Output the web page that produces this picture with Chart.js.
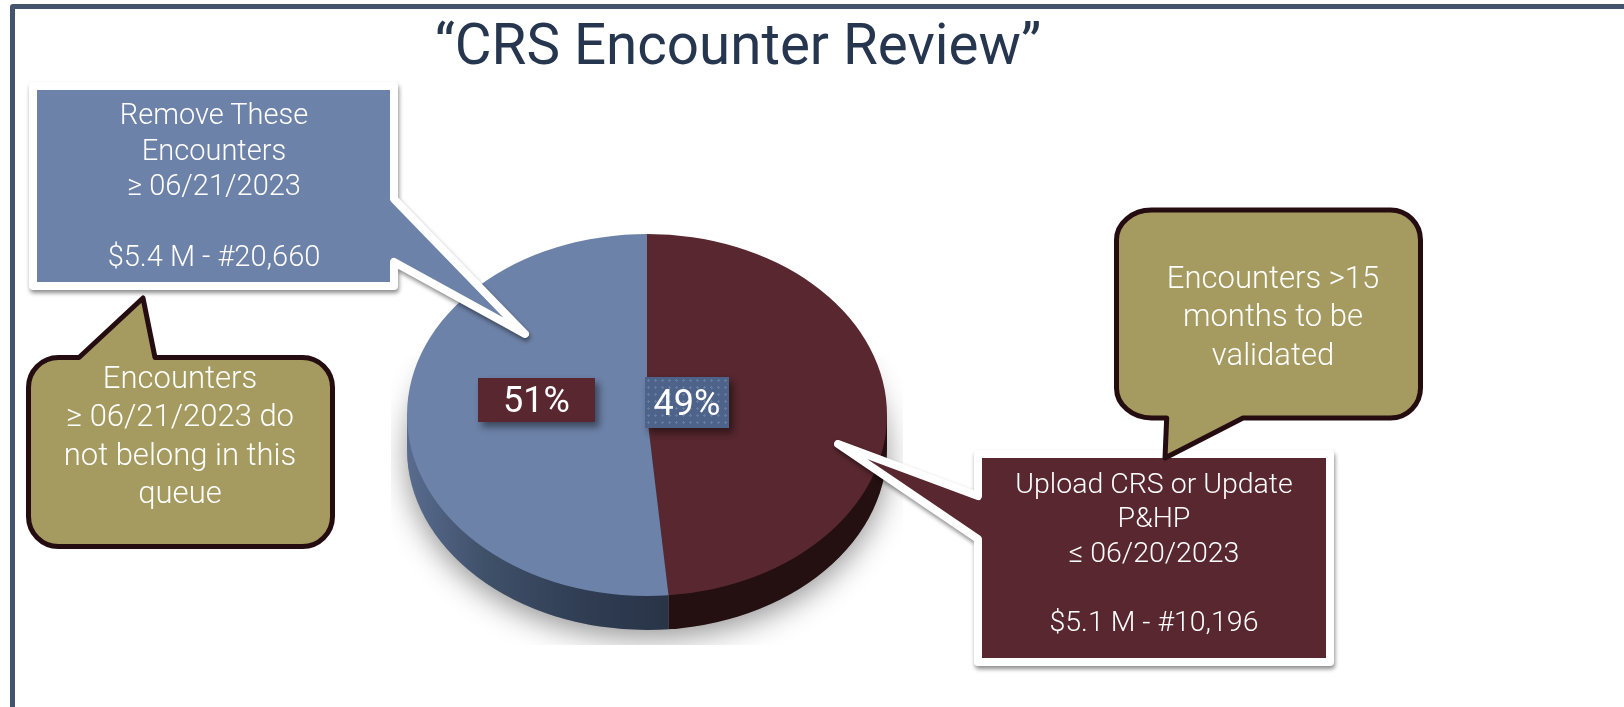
<!DOCTYPE html>
<html><head><meta charset="utf-8">
<script src="https://cdn.jsdelivr.net/npm/chart.js@4"></script>
<style>
html,body{margin:0;padding:0;background:#fff;overflow:hidden}
#stage{position:relative;width:1624px;height:707px;overflow:hidden;font-family:Roboto,"Liberation Sans",sans-serif}
#frame{position:absolute;left:10px;top:4px;width:1700px;height:800px;border:5px solid #44546f;box-sizing:border-box;border-radius:3px}
canvas{position:absolute;left:0;top:0}
svg{position:absolute;left:0;top:0}
#title{position:absolute;left:338px;width:800px;top:10px;text-align:center;font-size:56.5px;line-height:70px;color:#26364f}
.pct{position:absolute;color:#fff;font-size:36px;display:flex;align-items:center;justify-content:center;box-shadow:4px 5px 7px rgba(0,0,0,.45)}
</style></head><body>
<div id="stage">
<div id="frame"></div>
<canvas id="c" width="1624" height="707"></canvas>
<svg id="s" width="1624" height="707" xmlns="http://www.w3.org/2000/svg"></svg>
<div id="title">“CRS Encounter Review”</div>
<div class="pct" id="p1" style="left:478px;top:378px;width:117px;height:44px;background:#58272f"></div>
<div class="pct" id="p0" style="left:645px;top:377px;width:84px;height:51px;background-color:#4d6389;background-image:radial-gradient(rgba(150,170,205,.35) 1px,transparent 1.3px);background-size:7px 7px"></div>
</div>
<script>
const categories = ["Upload CRS or Update P&HP", "Remove These Encounters"];
const amountsMillions = [5.1, 5.4];
const sliceColors = ["#58272f", "#6d82a8"];
const blueLines = ["Remove These", "Encounters", "≥ 06/21/2023", "", "$5.4 M - #20,660"];
const maroonLines = ["Upload CRS or Update", "P&HP", "≤ 06/20/2023", "", "$5.1 M - #10,196"];
const leftNoteLines = ["Encounters", "≥ 06/21/2023 do", "not belong in this", "queue"];
const rightNoteLines = ["Encounters >15", "months to be", "validated"];

const squash = 181 / 240, depth = 34;
const pie3d = {
  id: 'pie3d',
  beforeDatasetsDraw(chart) {
    const ctx = chart.ctx, arcs = chart.getDatasetMeta(0).data;
    const a = arcs[0], cx = a.x, cy = a.y, rx = a.outerRadius, ry = rx * squash;
    // ground shadow
    ctx.save();
    ctx.beginPath(); ctx.rect(cx - 256, cy - 60, 512, ry + depth + 60 + 15); ctx.clip();
    ctx.shadowColor = 'rgba(0,0,0,.42)'; ctx.shadowBlur = 30; ctx.shadowOffsetY = 8;
    ctx.fillStyle = '#999';
    ctx.beginPath(); ctx.ellipse(cx, cy + depth, rx, ry, 0, 0, Math.PI * 2); ctx.fill();
    ctx.restore();
    // side wall, split where the first slice ends
    const splitX = cx + rx * Math.cos(a.endAngle);
    const wall = (x0, x1, fill) => {
      ctx.save();
      ctx.beginPath(); ctx.rect(x0, cy - 5, x1 - x0, ry + depth + 10); ctx.clip();
      ctx.fillStyle = fill;
      ctx.beginPath();
      ctx.ellipse(cx, cy + depth, rx, ry, 0, 0, Math.PI);
      ctx.lineTo(cx - rx, cy);
      ctx.lineTo(cx + rx, cy);
      ctx.closePath(); ctx.fill();
      ctx.restore();
    };
    const g = ctx.createLinearGradient(cx - rx, 0, splitX, 0);
    g.addColorStop(0, '#596c8f'); g.addColorStop(.3, '#3f5069'); g.addColorStop(.7, '#2f3c52'); g.addColorStop(1, '#293447');
    wall(cx - rx, splitX, g);
    wall(splitX, cx + rx, '#240f11');
    // squash the pie the library draws into the tilted top face
    ctx.save();
    ctx.translate(cx, cy); ctx.scale(1, squash); ctx.translate(-cx, -cy);
  },
  afterDatasetsDraw(chart) { chart.ctx.restore(); }
};

new Chart(document.getElementById('c'), {
  type: 'pie',
  data: { labels: categories, datasets: [{ data: amountsMillions, backgroundColor: sliceColors, borderWidth: 0, clip: false }] },
  options: {
    responsive: false, animation: false,
    layout: { padding: { left: 407, right: 737, top: 175, bottom: 52 } },
    plugins: { legend: { display: false }, tooltip: { enabled: false } }
  },
  plugins: [pie3d]
});

const total = amountsMillions.reduce((x, y) => x + y, 0);
document.getElementById('p0').textContent = Math.round(amountsMillions[0] / total * 100) + '%';
document.getElementById('p1').textContent = Math.round(amountsMillions[1] / total * 100) + '%';

// callouts
const NS = 'http://www.w3.org/2000/svg', svg = document.getElementById('s');
function path(d, fill, stroke, sw, filter) {
  const p = document.createElementNS(NS, 'path');
  p.setAttribute('d', d); p.setAttribute('fill', fill); p.setAttribute('stroke', stroke);
  p.setAttribute('stroke-width', sw); p.setAttribute('stroke-linejoin', 'round');
  if (filter) p.setAttribute('style', 'filter:drop-shadow(1px 3px 2px rgba(0,0,0,.45))');
  svg.appendChild(p);
}
function lines(arr, x, y0, dy, size) {
  arr.forEach((t, i) => {
    if (!t) return;
    const e = document.createElementNS(NS, 'text');
    e.setAttribute('x', x); e.setAttribute('y', y0 + i * dy);
    e.setAttribute('text-anchor', 'middle'); e.setAttribute('dominant-baseline', 'central');
    e.setAttribute('fill', '#fff');
    e.setAttribute('style', 'font:300 ' + size + 'px Roboto,"Liberation Sans",sans-serif');
    e.textContent = t; svg.appendChild(e);
  });
}
const tan = '#a59a5f', dark = '#240c10';
path('M33 86H394V199L525 334L394 262V286H33Z', sliceColors[1], '#fff', 8, true);
lines(blueLines, 214, 114, 35.5, 29);
path('M978 454H1330V662H978V539L838 444L978 496Z', sliceColors[0], '#fff', 8, true);
lines(maroonLines, 1154, 483, 34.5, 28.5);
path('M58.5 357.5H79L143 298L155 357.5H302.5A30 30 0 0 1 332.5 387.5V516.5A30 30 0 0 1 302.5 546.5H58.5A30 30 0 0 1 28.5 516.5V387.5A30 30 0 0 1 58.5 357.5Z', tan, dark, 5);
lines(leftNoteLines, 180, 377, 38.5, 31);
path('M1151.5 210H1390.5A30 30 0 0 1 1420.5 240V388A30 30 0 0 1 1390.5 418H1243L1165 458L1166.7 418H1151.5A35 30 0 0 1 1116.5 388V240A35 30 0 0 1 1151.5 210Z', tan, dark, 5);
lines(rightNoteLines, 1273, 277, 38.5, 31);
</script>
</body></html>
